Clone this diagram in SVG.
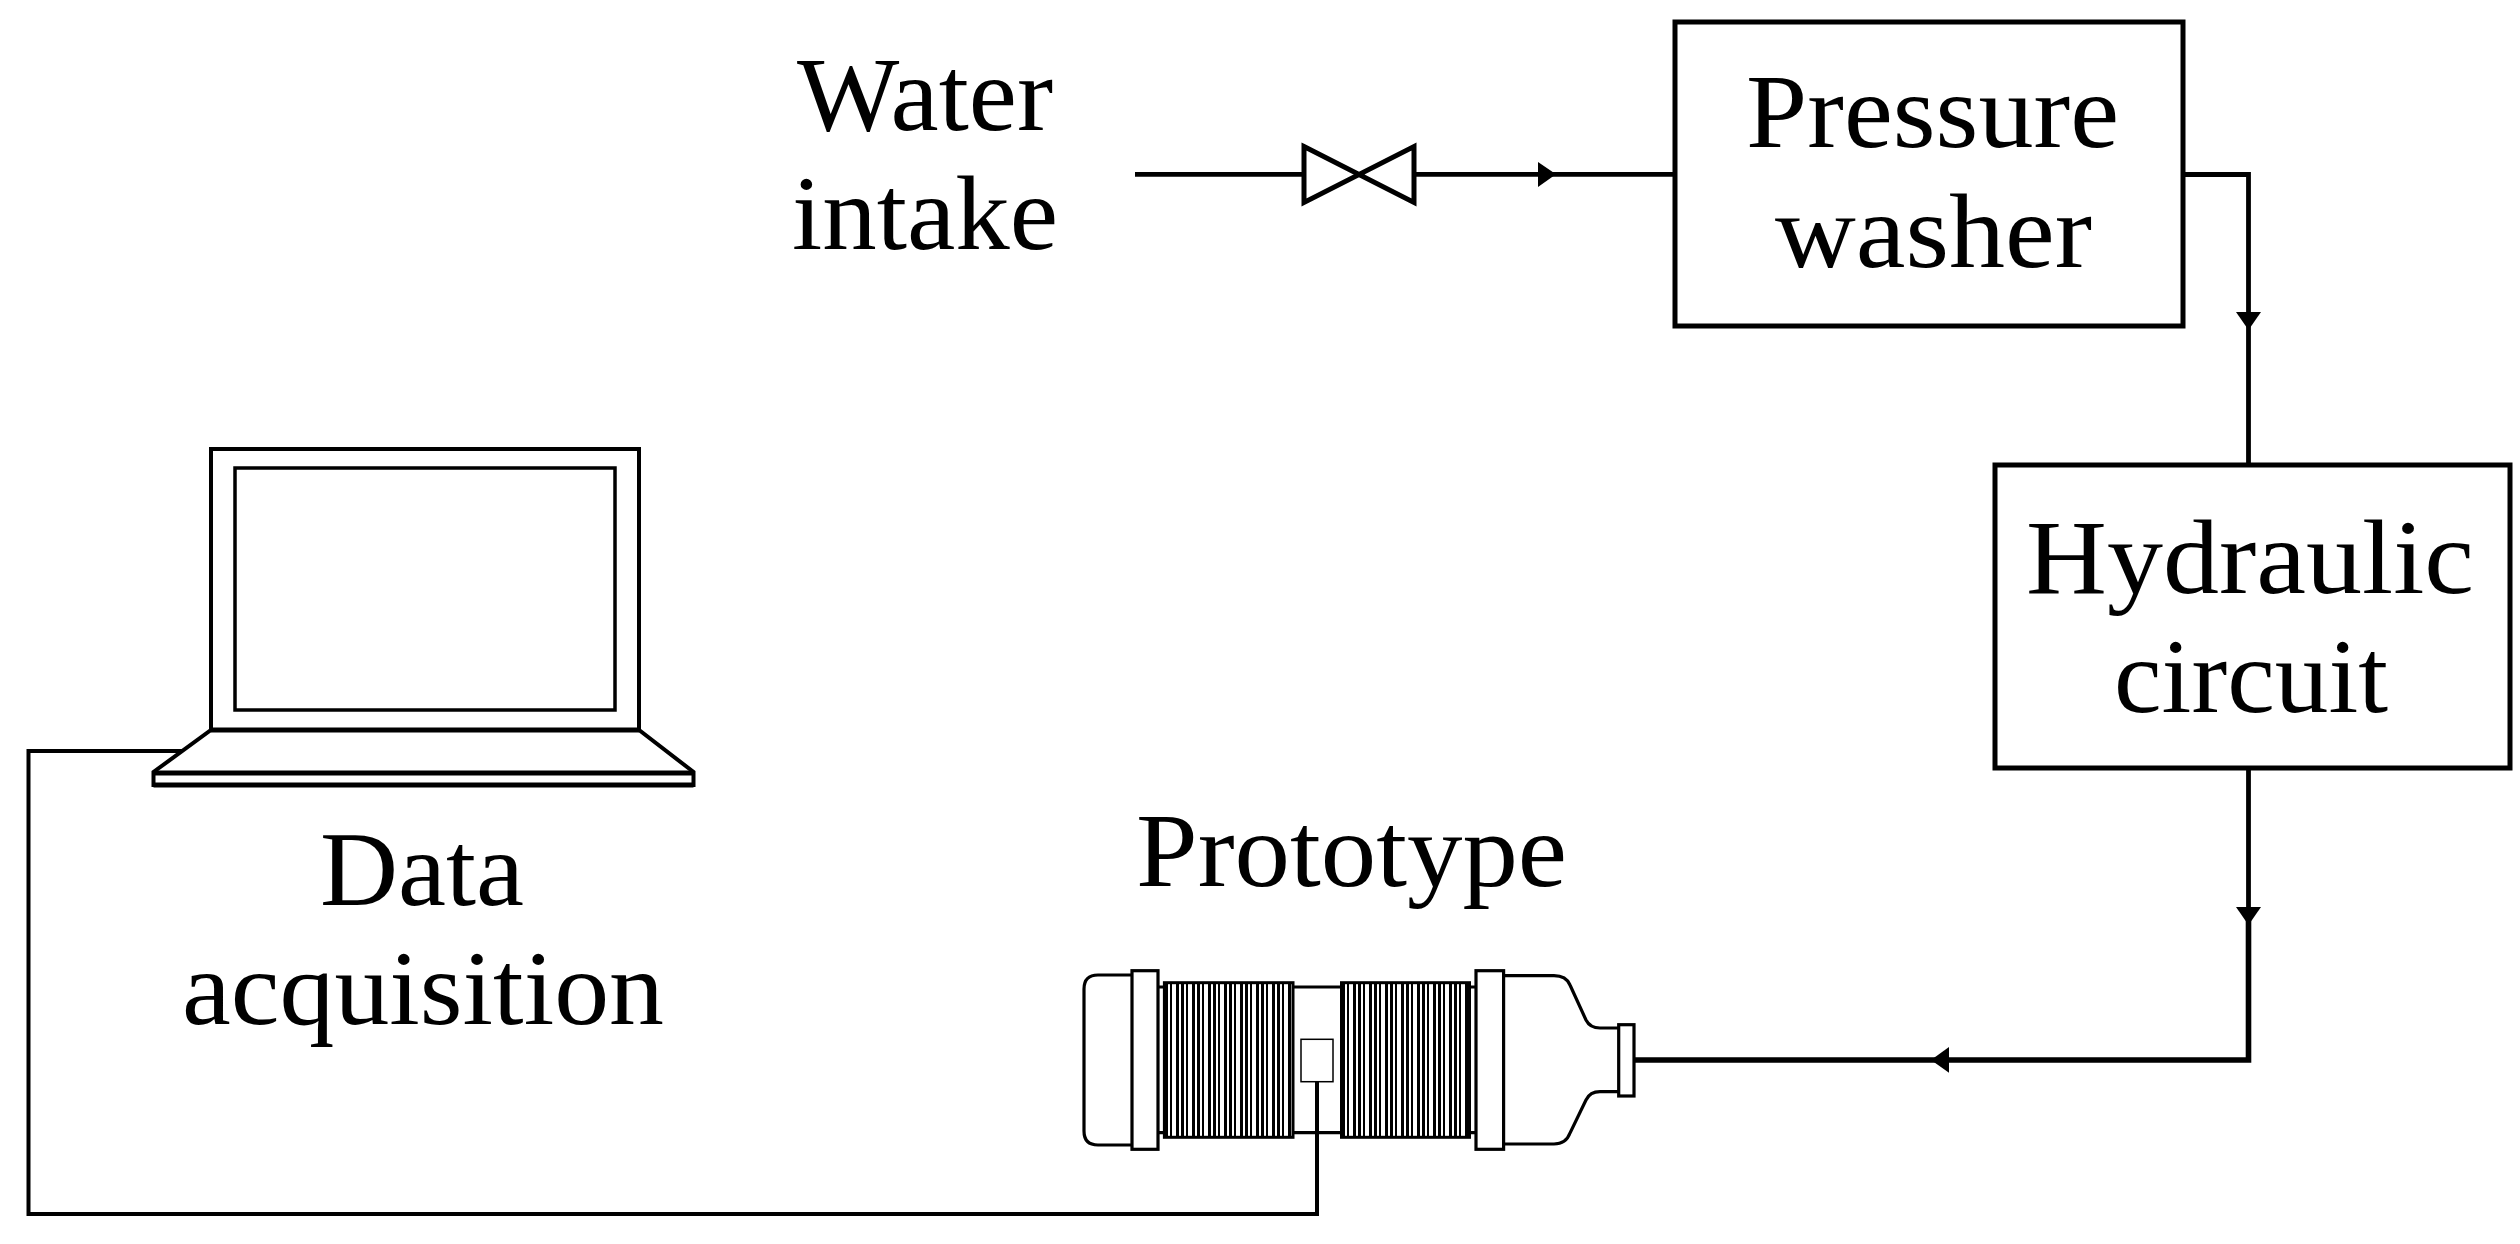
<svg xmlns="http://www.w3.org/2000/svg" width="2520" height="1244" viewBox="0 0 2520 1244">
<style>
text{font-family:"Liberation Serif","Times New Roman",serif;font-size:106px;fill:#000}
.b{fill:#fff;stroke:#000;stroke-width:5}
.l{fill:#fff;stroke:#000;stroke-width:4}
.t{fill:none;stroke:#000;stroke-width:3.200}
.f{fill:#fff;stroke:#000;stroke-width:3.200}
.c{fill:none;stroke:#000;stroke-width:4.800}
.p{fill:none;stroke:#000;stroke-width:5.600}
.w{fill:none;stroke:#000;stroke-width:4}
</style>
<defs>
<pattern id="ribs" width="16" height="10" patternUnits="userSpaceOnUse" patternTransform="translate(1165 0)"><rect width="3" height="10"/><rect x="5" width="2" height="10"/><rect x="11" width="3" height="10"/></pattern>
<pattern id="ribs2" width="16" height="10" patternUnits="userSpaceOnUse" patternTransform="translate(1342 0)"><rect width="3" height="10"/><rect x="5" width="2" height="10"/><rect x="11" width="3" height="10"/></pattern>
</defs>
<rect width="2520" height="1244" fill="#fff"/>
<g id="connectors">
<path class="c" d="M1135 174.300H1304"/>
<path class="c" d="M1414 174.300H1675"/>
<path class="c" d="M2183 174.500H2248.500V464"/>
<path class="c" d="M2248.500 768V916"/>
<path class="p" d="M2248.500 916V1060H1634"/>
<path class="w" d="M1317 1082V1214H28.500V751H183"/>
<path d="M1538 162L1556 174.300L1538 187Z"/>
<path d="M2236 312L2248.500 330L2261 312Z"/>
<path d="M2236 907L2248.500 925L2261 907Z"/>
<path d="M1949 1047L1931 1060L1949 1072.700Z"/>
</g>
<g id="valve"><path class="b" d="M1304 146.500L1414 202.500V146.500L1304 202.500Z"/></g>
<g id="water-intake"><text x="797" y="129.500" textLength="256" lengthAdjust="spacingAndGlyphs">Water</text><text x="792" y="249" textLength="266" lengthAdjust="spacingAndGlyphs">intake</text></g>
<g id="pressure-washer"><rect class="b" x="1675" y="22" width="508" height="304"/><text x="1746" y="147" textLength="373" lengthAdjust="spacingAndGlyphs">Pressure</text><text x="1775" y="267" textLength="317" lengthAdjust="spacingAndGlyphs">washer</text></g>
<g id="hydraulic-circuit"><rect class="b" x="1995" y="465" width="515" height="303"/><text x="2026" y="593" textLength="448" lengthAdjust="spacingAndGlyphs">Hydraulic</text><text x="2114" y="712" textLength="274" lengthAdjust="spacingAndGlyphs">circuit</text></g>
<g id="data-acquisition">
<rect class="l" x="211" y="449" width="428" height="281"/>
<rect class="l" style="stroke-width:3.500" x="235" y="468" width="380" height="242"/>
<path class="l" d="M211 730H639L693.500 772V785H153.500V772Z"/>
<path class="b" d="M153.500 773H693.500M153.500 785H693.500M211 730H639"/>
<text x="320" y="905" textLength="204" lengthAdjust="spacingAndGlyphs">Data</text><text x="182" y="1024" textLength="482" lengthAdjust="spacingAndGlyphs">acquisition</text>
</g>
<g id="prototype">
<path class="t" d="M1132 975H1098Q1084 975 1084 989V1131Q1084 1145 1098 1145H1132"/>
<path class="t" d="M1158 987H1164M1158 1132.700H1164M1293 987H1341.500M1293 1132.700H1341.500M1470 987H1476M1470 1132.700H1476"/>
<path class="t" d="M1503.600 975.700H1554Q1566 975.700 1570 985L1586 1020Q1590 1028 1600 1028H1618.700M1503.600 1144H1554Q1566 1144 1570 1133L1586 1100Q1590 1091.700 1600 1091.700H1618.700"/>
<rect class="f" x="1132" y="970.700" width="26" height="178.600"/>
<rect class="f" x="1476" y="970.700" width="27.600" height="178.600"/>
<rect class="f" x="1618.700" y="1024.700" width="15.300" height="71.300"/>
<rect x="1164.400" y="982.700" width="128.600" height="154.600" fill="url(#ribs)" stroke="#000" stroke-width="3"/>
<rect x="1341.500" y="982.700" width="128" height="154.600" fill="url(#ribs2)" stroke="#000" stroke-width="3"/>
<rect x="1301" y="1039.300" width="32" height="42.400" fill="#fff" stroke="#000" stroke-width="1.500"/>
<text x="1136" y="886" textLength="431" lengthAdjust="spacingAndGlyphs">Prototype</text>
</g>
</svg>
